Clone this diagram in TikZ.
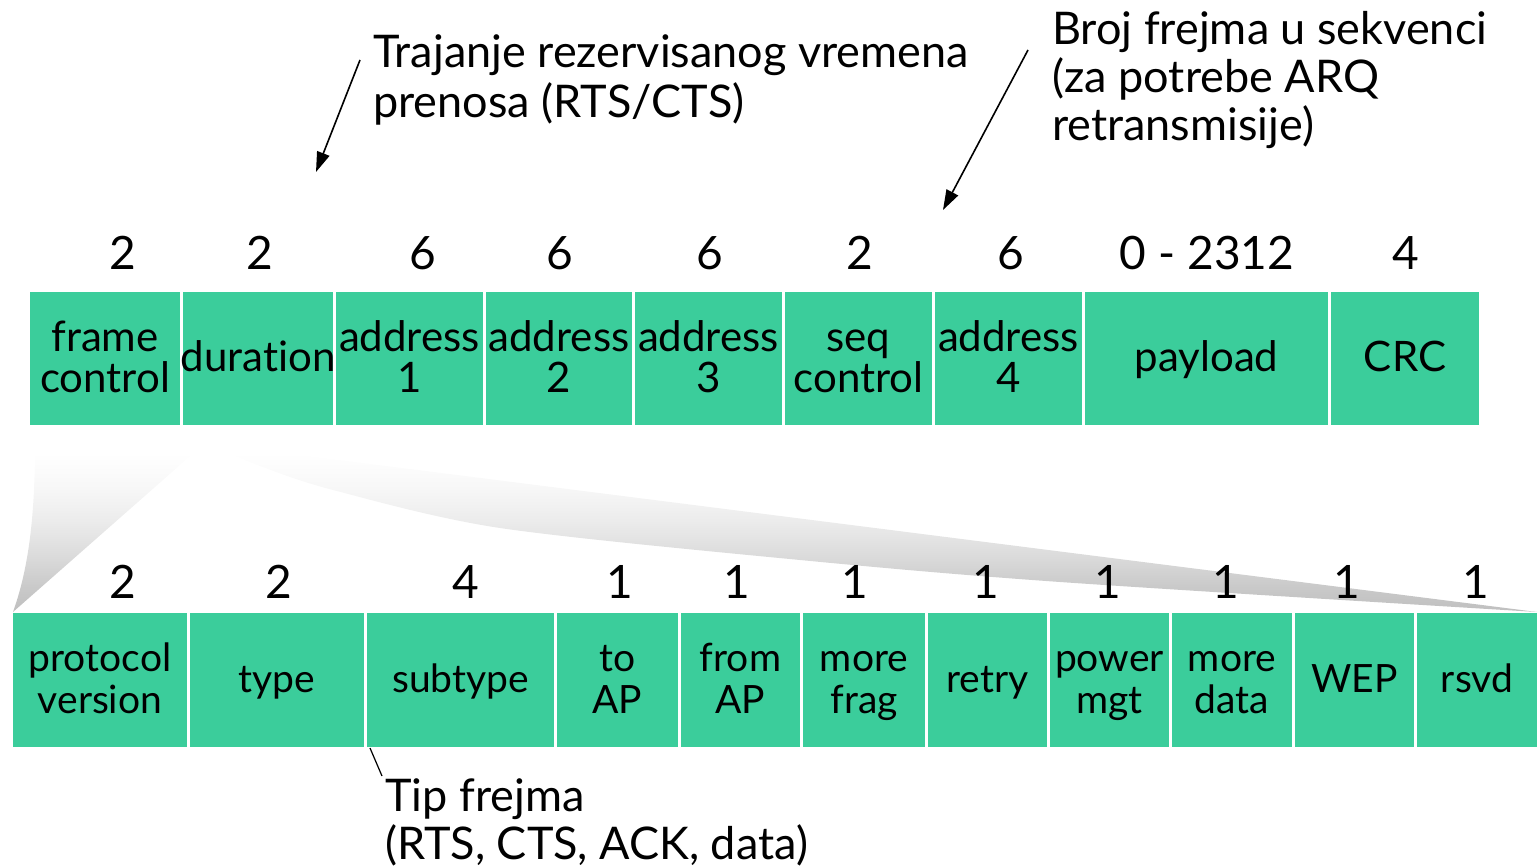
\documentclass[tikz,border=0pt]{standalone}
\usepackage{fontspec}
\setmainfont[Ligatures=NoCommon]{Lato}
\usetikzlibrary{arrows.meta}
\definecolor{fieldgreen}{RGB}{59,205,155}
\newcommand\tstrut{\rule[-7pt]{0pt}{40pt}}
\newcommand\bstrut{\rule[-8pt]{0pt}{42pt}}
\pgfdeclareverticalshading{funnelshade}{100bp}{color(0bp)=(gray!50); color(25bp)=(gray!50);
  color(32.5bp)=(gray!42); color(42.5bp)=(gray!27); color(52bp)=(gray!15);
  color(62bp)=(gray!6); color(72bp)=(white); color(100bp)=(white)}
\begin{document}
\begin{tikzpicture}[x=1pt,y=-1pt,
  fld/.style={fill=fieldgreen, inner sep=0pt, outer sep=0pt},
  lbl/.style={inner sep=0pt, align=center, text=black},
  tlbl/.style={lbl, font=\fontsize{42}{41}\selectfont},
  blbl/.style={lbl, font=\fontsize{39}{42}\selectfont},
  num/.style={font=\fontsize{46}{46}\selectfont, anchor=base, inner sep=0pt},
  note/.style={anchor=north west, inner sep=0pt, align=left},
  arr/.style={line width=1.6pt, -{Triangle[length=20pt,width=13pt]}},
  tick/.style={line width=1.2pt}]
\useasboundingbox (0,0) rectangle (1537,866);

% gray funnel
\shade[shading=funnelshade]
  (13,612) .. controls (28,570) and (35,520) .. (35,443) -- (205,443)
  plot[smooth] coordinates {(205,443) (260,466) (333,490) (500,528) (800,560) (1060,582) (1537,612)}
  -- cycle;

% top row
\foreach \nm/\xa/\xb/\txt in {fc/30/180/{frame\tstrut\\control\tstrut}, dur/183/333/{duration\tstrut},
  ad1/336/483/{address\tstrut\\1\tstrut}, ad2/486/632/{address\tstrut\\2\tstrut}, ad3/635/782/{address\tstrut\\3\tstrut},
  seq/785/932/{seq\tstrut\\control\tstrut}, ad4/935/1082/{address\tstrut\\4\tstrut}, pay/1085/1328/{payload\tstrut},
  crc/1331/1479/{CRC\tstrut}}
  {
  \node[fld, minimum width=\xb-\xa, minimum height=133] (\nm) at ({(\xa+\xb)/2},359) {};
  \node[tlbl] (\nm-t) at (\nm.center) {\txt};
  }

\foreach \x/\t in {123/2, 260/2, 423/6, 560/6, 710/6, 860/2, 1011/6, 1207/{0 - 2312}, 1406/4}
  \node[num] at (\x,270) {\t};

% bottom row
\foreach \nm/\xa/\xb/\txt in {pv/13/187/{protocol\bstrut\\version\bstrut}, ty/190/364/{type\bstrut},
  sub/367/554/{subtype\bstrut}, to/557/678/{to\bstrut\\AP\bstrut}, from/681/800/{from\bstrut\\AP\bstrut},
  mf/803/925/{more\bstrut\\frag\bstrut}, re/928/1047/{retry\bstrut}, pw/1050/1169/{power\bstrut\\mgt\bstrut},
  md/1172/1292/{more\bstrut\\data\bstrut}, wep/1295/1414/{WEP\bstrut}, rs/1417/1537/{rsvd\bstrut}}
  {
  \node[fld, minimum width=\xb-\xa, minimum height=134] (\nm) at ({(\xa+\xb)/2},679.5) {};
  \node[blbl] (\nm-t) at (\nm.center) {\txt};
  }

\foreach \x/\t in {123/2, 279/2, 466/4, 620/1, 737/1, 855/1, 986/1, 1108/1, 1226/1, 1347/1, 1476/1}
  \node[num] at (\x,598) {\t};

% annotations
\node[note, font=\fontsize{45}{50}\selectfont] (dura) at (373,34)
  {Trajanje rezervisanog vremena\\prenosa (RTS/CTS)};
\node[note, font=\fontsize{45}{48}\selectfont] (broj) at (1052,11)
  {Broj frejma u sekvenci\\(za potrebe ARQ\\retransmisije)};
\node[note, font=\fontsize{45}{48}\selectfont] (tip) at (385,778)
  {Tip frejma\\(RTS, CTS, ACK, data)};

\coordinate (d1) at (360,60);
\coordinate (d2) at (316,172);
\draw[arr] (d1) -- (d2);
\coordinate (b1) at (1028,50);
\coordinate (b2) at (943,210);
\draw[arr] (b1) -- (b2);
\coordinate (t1) at (370,748);
\coordinate (t2) at (382,776);
\draw[tick] (t1) -- (t2);
\end{tikzpicture}
\end{document}
